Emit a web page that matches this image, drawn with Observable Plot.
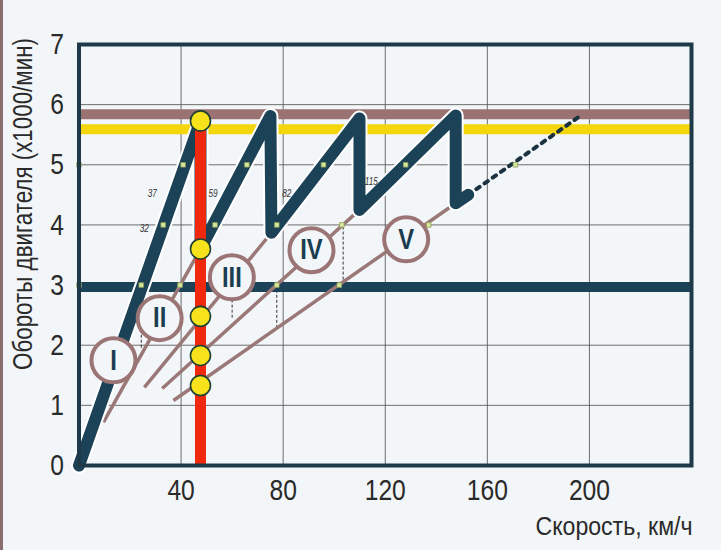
<!DOCTYPE html>
<html>
<head>
<meta charset="utf-8">
<script src="https://cdn.jsdelivr.net/npm/d3@7"></script>
<script src="https://cdn.jsdelivr.net/npm/@observablehq/plot@0.6"></script>
<style>
  html, body { margin: 0; padding: 0; background: #f3f6f8; }
  #wrap { position: relative; width: 721px; height: 550px; overflow: hidden; }
  #edge { position: absolute; left: 0; top: 0; width: 3px; height: 550px; background: #8c6e6e; }
</style>
</head>
<body>
<div id="wrap"><div id="edge"></div><div id="chart"></div></div>
<script>
// ---- data ----
const xTicks = [40, 80, 120, 160, 200];
const yTicks = [0, 1, 2, 3, 4, 5, 6, 7];
const yGrid = [1, 2, 3, 4, 5, 6];

// sawtooth (speed km/h, rpm x1000)
const sawX = [0, 47.6, 47.6, 75.0, 75.4, 109.9, 109.9, 147.6, 147.6, 152.5];
const sawY = [0, 5.73, 3.60, 5.81, 3.87, 5.77, 4.25, 5.82, 4.36, 4.50];

// dotted continuation of 5th gear
const dotX = [152.5, 197];
const dotY = [4.50, 5.83];

// horizontal bands
const bandY = [5.84, 5.59, 2.97];
const bandColor = ["#9a7272", "#f5d60c", "#1b4257"];

// red vertical (current speed)
const redX = 47.6;
const redTop = 5.73;

// yellow points on the red line
const yellowY = [5.73, 3.60, 2.48, 1.83, 1.33];

// gear lines (thin)
const gearLineX1 = [9.6, 25.6, 32.6, 37.0];
const gearLineY1 = [0.72, 1.30, 1.28, 1.08];
const gearLineX2 = [47.6, 75.4, 109.9, 147.6];
const gearLineY2 = [3.60, 3.87, 4.25, 4.36];

// gear labels
const gearNames = ["I", "II", "III", "IV", "V"];
const gearX = [13.5, 31.6, 59.9, 91.1, 128.2];
const gearY = [1.75, 2.45, 3.13, 3.58, 3.76];

// small markers at grid crossings
const markX = [0, 0, 24.4, 33.0, 40.8, 39.6, 53.3, 65.8, 60.0, 77.5, 95.8, 77.5, 103.0, 128.0, 102.0, 137.0, 171.0];
const markY = [3, 5, 3, 4, 5, 3, 4, 5, 3, 4, 5, 3, 4, 5, 3, 4, 5];

// thin vertical helper lines
const helpX = [24.4, 60.0, 77.5, 103.5];
const helpY1 = [1.95, 2.45, 2.28, 3.0];
const helpY2 = [3.0, 3.0, 3.0, 4.0];

// handwritten notes
const noteText = ["37", "32", "59", "82", "115"];
const noteX = [28.7, 25.6, 52.5, 81.4, 114.5];
const noteY = [4.52, 3.93, 4.52, 4.52, 4.72];

const xLabel = "Скорость, км/ч";
const yLabel = "Обороты двигателя (x1000/мин)";

// ---- tables built from the arrays ----
const saw = sawX.map((x, i) => ({x, y: sawY[i]}));
const dotted = dotX.map((x, i) => ({x, y: dotY[i]}));
const bands = bandY.map((y, i) => ({y, c: bandColor[i]}));
const gearLines = gearLineX1.map((x1, i) => ({x1, y1: gearLineY1[i], x2: gearLineX2[i], y2: gearLineY2[i]}));
const gears = gearNames.map((name, i) => ({name, x: gearX[i], y: gearY[i]}));
const marks = markX.map((x, i) => ({x, y: markY[i]}));
const helps = helpX.map((x, i) => ({x, y1: helpY1[i], y2: helpY2[i]}));
const notes = noteText.map((t, i) => ({t, x: noteX[i], y: noteY[i]}));
const yellows = yellowY.map(y => ({x: redX, y}));

const font = "'Liberation Sans', Arial, sans-serif";
const dark = "#1b3d50";

const chart = Plot.plot({
  width: 721,
  height: 550,
  marginLeft: 78.5,
  marginRight: 30,
  marginTop: 44,
  marginBottom: 85,
  x: {domain: [0, 240]},
  y: {domain: [0, 7]},
  style: {background: "transparent", fontFamily: font, color: "#2a2a2a"},
  marks: [
    Plot.gridX(xTicks, {stroke: "#555", strokeOpacity: 0.85, strokeWidth: 1}),
    Plot.gridY(yGrid, {stroke: "#555", strokeOpacity: 0.85, strokeWidth: 1}),
    Plot.axisX(xTicks, {tickSize: 0, tickPadding: 13, fontSize: 30, label: null, tickFormat: d => String(d)}),
    Plot.axisY(yTicks, {tickSize: 0, tickPadding: 15, fontSize: 30, label: null, tickFormat: d => String(d)}),
    Plot.ruleX(helps, {x: "x", y1: "y1", y2: "y2", stroke: "#333", strokeWidth: 1, strokeDasharray: "3,2"}),
    Plot.ruleY(bands, {y: "y", stroke: "c", strokeWidth: 10}),
    Plot.link(gearLines, {x1: "x1", y1: "y1", x2: "x2", y2: "y2", stroke: "#9b7878", strokeWidth: 3.5}),
    Plot.line(dotted, {x: "x", y: "y", stroke: "#1b3340", strokeWidth: 4, strokeDasharray: "4,6"}),
    Plot.line(saw, {x: "x", y: "y", stroke: "white", strokeWidth: 16, strokeLinejoin: "round", strokeLinecap: "round"}),
    Plot.line(saw, {x: "x", y: "y", stroke: "#1b4257", strokeWidth: 12, strokeLinejoin: "round", strokeLinecap: "round"}),
    Plot.dot(marks, {x: "x", y: "y", symbol: "square", r: 2.6, fill: "#d9e6a0", stroke: "#8aa050", strokeWidth: 0.8}),
    Plot.ruleX([redX], {y1: 0, y2: redTop, stroke: "#f0280e", strokeWidth: 11}),
    Plot.dot(yellows, {x: "x", y: "y", r: 10, fill: "#f8e21c", stroke: "#1d4030", strokeWidth: 1.6}),
    Plot.dot(gears, {x: "x", y: "y", r: 22, fill: "#f3f6f8", stroke: "#9b7575", strokeWidth: 4}),
    Plot.text(gears, {x: "x", y: "y", text: "name", fontSize: 29, fontWeight: "bold", fill: dark}),
    Plot.text(notes, {x: "x", y: "y", text: "t", fontSize: 10, fontStyle: "italic", fill: "#333"}),
    Plot.frame({stroke: "#1e3a48", strokeWidth: 4}),
    Plot.text([xLabel], {frameAnchor: "bottom-right", textAnchor: "end", lineAnchor: "middle", dy: 61, dx: 1, fontSize: 26, fill: "#2a2a2a"}),
    Plot.text([yLabel], {frameAnchor: "left", textAnchor: "start", rotate: -90, dx: -56, dy: 115, fontSize: 27, fill: "#2a2a2a"})
  ]
});
document.getElementById("chart").appendChild(chart);

// condense the type (the reference uses a narrow grotesque)
const fixedLength = {[xLabel]: 157, [yLabel]: 332};
d3.select(chart).selectAll("text").each(function () {
  const t = this.textContent;
  const len = this.getComputedTextLength();
  if (!len) return;
  const target = fixedLength[t] !== undefined ? fixedLength[t] : len * 0.82;
  this.setAttribute("textLength", target);
  this.setAttribute("lengthAdjust", "spacingAndGlyphs");
});
</script>
</body>
</html>
